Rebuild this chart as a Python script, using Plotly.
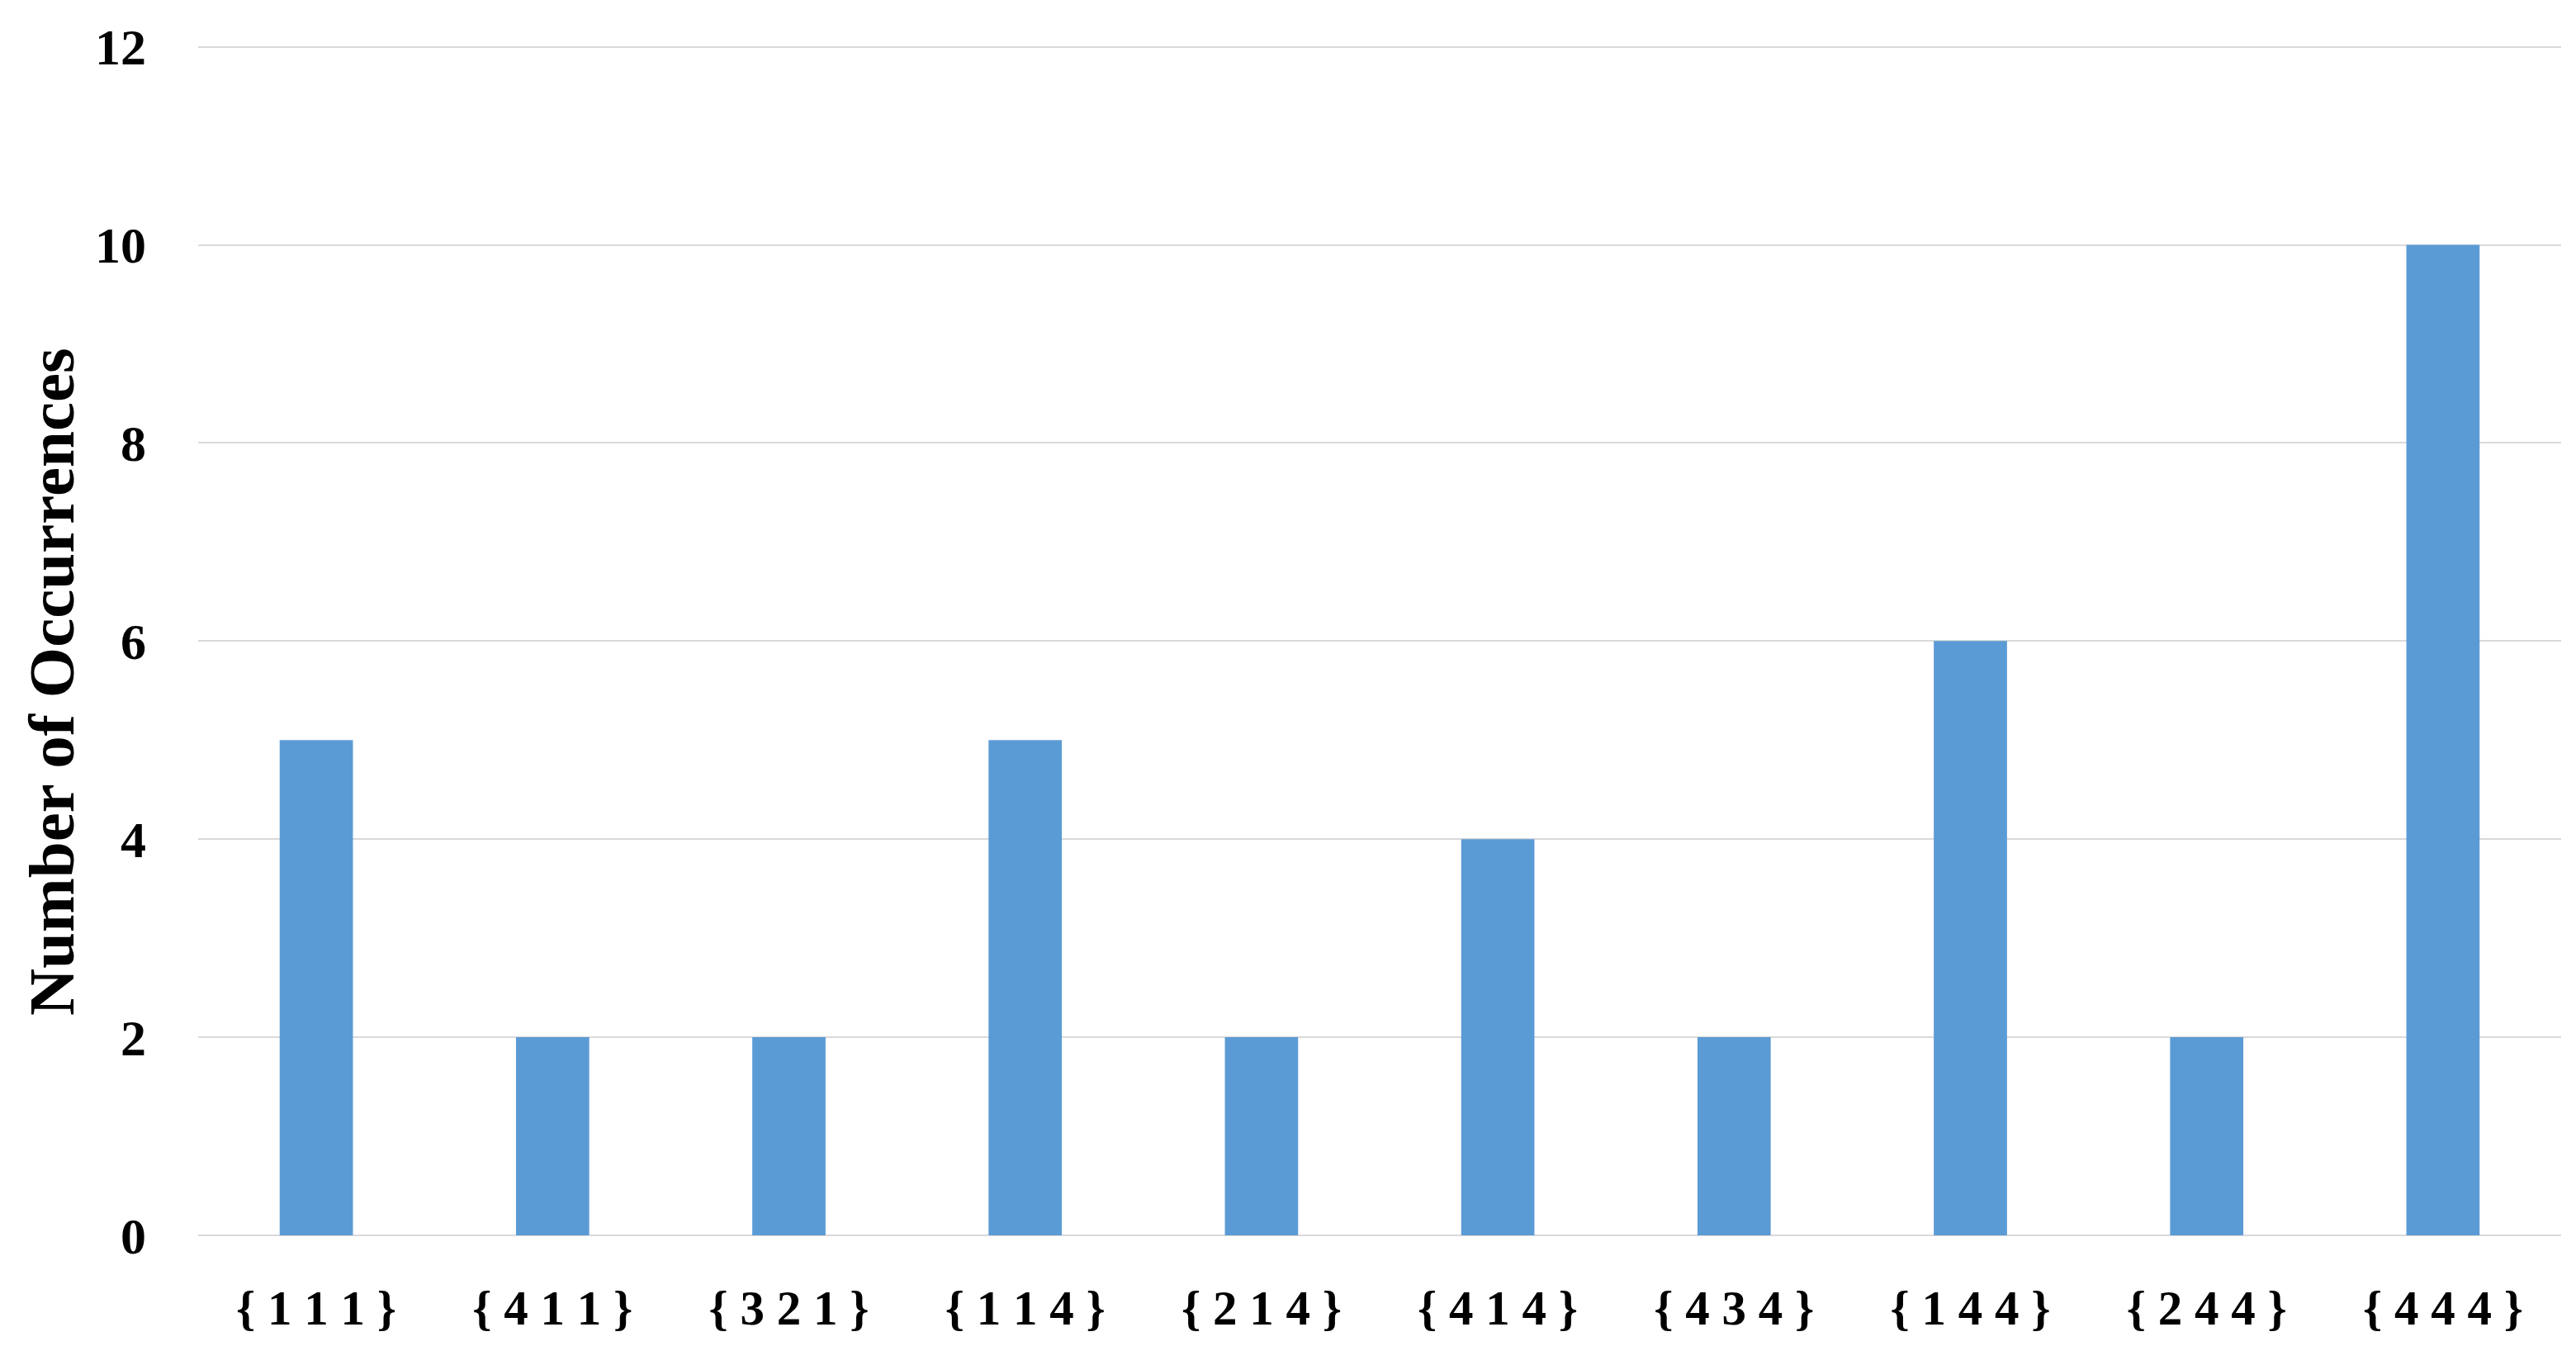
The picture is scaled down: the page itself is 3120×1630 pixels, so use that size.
import plotly.graph_objects as go

categories = ["{ 1 1 1 }", "{ 4 1 1 }", "{ 3 2 1 }", "{ 1 1 4 }", "{ 2 1 4 }",
              "{ 4 1 4 }", "{ 4 3 4 }", "{ 1 4 4 }", "{ 2 4 4 }", "{ 4 4 4 }"]
occurrences = [5, 2, 2, 5, 2, 4, 2, 6, 2, 10]
y_ticks = [0, 2, 4, 6, 8, 10, 12]

FONT = "Liberation Serif"

W, H = 3120, 1630
L, R, T, B = 232, 26, 45, 142

fig = go.Figure(
    go.Bar(x=categories, y=occurrences, marker=dict(color="#5B9BD5", line=dict(width=0)))
)

plot_h = H - T - B
plot_w = W - L - R

fig.update_layout(
    width=W, height=H,
    paper_bgcolor="white", plot_bgcolor="white",
    margin=dict(l=L, r=R, t=T, b=B, autoexpand=False),
    bargap=0.69,
    showlegend=False,
    font=dict(family=FONT, color="black"),
    annotations=[dict(
        text="Number of Occurrences", textangle=-90,
        xref="paper", yref="paper",
        x=(54 - L) / plot_w, y=(H - B - 818) / plot_h,
        xanchor="center", yanchor="middle", showarrow=False,
        font=dict(family=FONT, size=79, color="black", weight="bold"),
    )],
)

fig.update_xaxes(
    type="category",
    tickfont=dict(family=FONT, size=59, color="black", weight="bold"),
    showgrid=False, showline=False, zeroline=False,
    ticks="", ticklabelstandoff=48,
    automargin=False,
)

fig.update_yaxes(
    range=[0, 12.03], tickvals=y_ticks,
    tickfont=dict(family=FONT, size=62, color="black", weight="bold"),
    showgrid=True, gridcolor="#D9D9D9", gridwidth=2,
    zeroline=True, zerolinecolor="#D9D9D9", zerolinewidth=2,
    showline=False, ticks="", ticklabelstandoff=62,
    automargin=False,
)

fig.write_html("out.html")
